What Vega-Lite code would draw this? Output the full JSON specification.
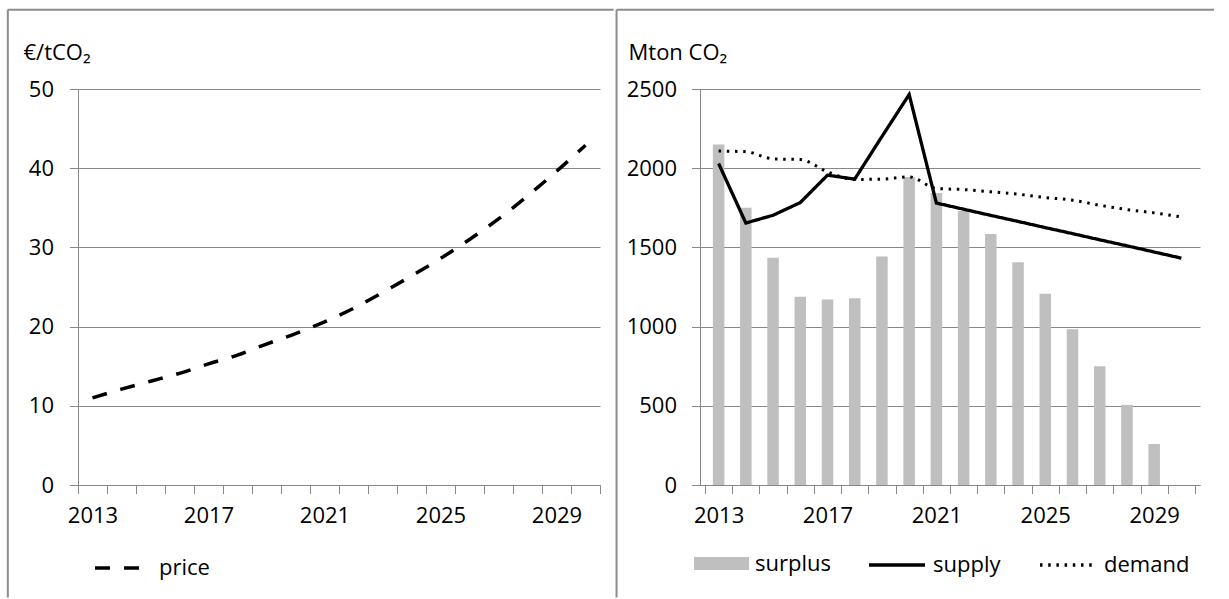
{
  "$schema": "https://vega.github.io/schema/vega-lite/v6.json",
  "background": "white",
  "padding": {"left": 6, "top": 8, "right": 0, "bottom": 0},
  "spacing": 0,
  "resolve": {
    "scale": {"strokeDash": "independent", "fill": "independent"},
    "legend": {"strokeDash": "independent", "fill": "independent"}
  },
  "config": {
    "font": "Open Sans",
    "view": {"stroke": null},
    "axis": {
      "labelFont": "Open Sans",
      "labelFontSize": 22,
      "labelColor": "#000000",
      "domainColor": "#888888",
      "tickColor": "#888888",
      "gridColor": "#888888",
      "gridWidth": 1,
      "domainWidth": 1,
      "tickWidth": 1,
      "tickSize": 8.5,
      "titleFont": "Open Sans",
      "titleFontSize": 22,
      "titleFontWeight": "normal",
      "titleColor": "#000000"
    },
    "legend": {
      "labelFont": "Open Sans",
      "labelFontSize": 22,
      "labelColor": "#000000",
      "padding": 0
    }
  },
  "datasets": {
    "price": [
      {"year": 2013, "price": 11.0},
      {"year": 2014, "price": 12.1},
      {"year": 2015, "price": 13.1},
      {"year": 2016, "price": 14.1},
      {"year": 2017, "price": 15.3},
      {"year": 2018, "price": 16.4},
      {"year": 2019, "price": 17.8},
      {"year": 2020, "price": 19.1},
      {"year": 2021, "price": 20.6},
      {"year": 2022, "price": 22.3},
      {"year": 2023, "price": 24.3},
      {"year": 2024, "price": 26.4},
      {"year": 2025, "price": 28.6},
      {"year": 2026, "price": 31.0},
      {"year": 2027, "price": 33.6},
      {"year": 2028, "price": 36.5},
      {"year": 2029, "price": 39.6},
      {"year": 2030, "price": 42.9}
    ],
    "balance": [
      {"year": 2013, "surplus": 2150, "supply": 2030, "demand": 2108},
      {"year": 2014, "surplus": 1750, "supply": 1654, "demand": 2104},
      {"year": 2015, "surplus": 1435, "supply": 1703, "demand": 2059},
      {"year": 2016, "surplus": 1188, "supply": 1783, "demand": 2055},
      {"year": 2017, "surplus": 1171, "supply": 1956, "demand": 1977},
      {"year": 2018, "surplus": 1179, "supply": 1931, "demand": 1929},
      {"year": 2019, "surplus": 1443, "supply": 2200, "demand": 1931},
      {"year": 2020, "surplus": 1945, "supply": 2465, "demand": 1945},
      {"year": 2021, "surplus": 1844, "supply": 1780, "demand": 1872},
      {"year": 2022, "surplus": 1730, "supply": 1741, "demand": 1865},
      {"year": 2023, "surplus": 1585, "supply": 1702, "demand": 1851},
      {"year": 2024, "surplus": 1407, "supply": 1664, "demand": 1836},
      {"year": 2025, "surplus": 1207, "supply": 1625, "demand": 1815},
      {"year": 2026, "surplus": 983, "supply": 1587, "demand": 1798},
      {"year": 2027, "surplus": 749, "supply": 1548, "demand": 1766},
      {"year": 2028, "surplus": 506, "supply": 1510, "demand": 1739},
      {"year": 2029, "surplus": 259, "supply": 1471, "demand": 1718},
      {"year": 2030, "surplus": null, "supply": 1432, "demand": 1692}
    ]
  },
  "hconcat": [
    {
      "width": 522,
      "height": 396,
      "resolve": {"axis": {"x": "independent", "y": "independent"}},
      "layer": [
        {
          "data": {"name": "price"},
          "mark": {"type": "line", "color": "#000000", "strokeWidth": 3.5, "strokeCap": "butt", "interpolate": "monotone"},
          "encoding": {
            "x": {
              "field": "year",
              "type": "quantitative",
              "scale": {"domain": [2012.5, 2030.5], "nice": false, "zero": false},
              "axis": {
                "orient": "bottom",
                "title": null,
                "grid": false,
                "values": [2012.5, 2013, 2013.5, 2014.5, 2015.5, 2016.5, 2017, 2017.5, 2018.5, 2019.5, 2020.5, 2021, 2021.5, 2022.5, 2023.5, 2024.5, 2025, 2025.5, 2026.5, 2027.5, 2028.5, 2029, 2029.5, 2030.5],
                "labelExpr": "datum.value % 1 === 0 ? '' + datum.value : ''",
                "tickOpacity": {"condition": {"test": "datum.value % 1 === 0", "value": 0}, "value": 1},
                "labelOverlap": false,
                "labelFlush": false,
                "labelPadding": 12
              }
            },
            "y": {
              "field": "price",
              "type": "quantitative",
              "scale": {"domain": [0, 50], "nice": false},
              "axis": {
                "orient": "left",
                "title": "€/tCO₂",
                "values": [0, 10, 20, 30, 40, 50],
                "format": "d",
                "grid": true,
                "titleAngle": 0,
                "titleAlign": "left",
                "titleBaseline": "alphabetic",
                "titleX": -55,
                "titleY": -30,
                "labelPadding": 16
              }
            },
            "strokeDash": {
              "datum": "price",
              "type": "nominal",
              "scale": {"range": [[15, 14]]},
              "legend": {
                "title": null,
                "orient": "none",
                "legendX": 15,
                "legendY": 455,
                "symbolType": "stroke",
                "symbolSize": 1936,
                "symbolStrokeWidth": 3.5,
                "symbolStrokeColor": "#000000",
                "labelOffset": 18
              }
            }
          }
        },
        {
          "data": {"values": [{}]},
          "mark": {"type": "rule", "stroke": "#8c8c8c", "strokeWidth": 2},
          "encoding": {
            "x": {"datum": 2010.08, "type": "quantitative", "scale": {"domain": [2012.5, 2030.5], "nice": false, "zero": false}, "axis": null},
            "x2": {"datum": 2030.97},
            "y": {"datum": 60, "type": "quantitative", "scale": {"domain": [0, 50], "nice": false}, "axis": null}
          }
        },
        {
          "data": {"values": [{}]},
          "mark": {"type": "rule", "stroke": "#8c8c8c", "strokeWidth": 2},
          "encoding": {
            "x": {"datum": 2010.08, "type": "quantitative", "scale": {"domain": [2012.5, 2030.5], "nice": false, "zero": false}, "axis": null},
            "y": {"datum": 60, "type": "quantitative", "scale": {"domain": [0, 50], "nice": false}, "axis": null},
            "y2": {"datum": -14.2}
          }
        }
      ]
    },
    {
      "width": 500,
      "height": 396,
      "resolve": {"axis": {"x": "independent", "y": "independent"}},
      "layer": [
        {
          "data": {"name": "balance"},
          "mark": {"type": "bar", "size": 11.5},
          "encoding": {
            "x": {
              "field": "year",
              "type": "quantitative",
              "scale": {"domain": [2012.5, 2030.5], "nice": false, "zero": false},
              "axis": {
                "orient": "bottom",
                "title": null,
                "grid": false,
                "values": [2012.5, 2013, 2013.5, 2014.5, 2015.5, 2016.5, 2017, 2017.5, 2018.5, 2019.5, 2020.5, 2021, 2021.5, 2022.5, 2023.5, 2024.5, 2025, 2025.5, 2026.5, 2027.5, 2028.5, 2029, 2029.5, 2030.5],
                "labelExpr": "datum.value % 1 === 0 ? '' + datum.value : ''",
                "tickOpacity": {"condition": {"test": "datum.value % 1 === 0", "value": 0}, "value": 1},
                "labelOverlap": false,
                "labelFlush": false,
                "labelPadding": 12
              }
            },
            "y": {
              "field": "surplus",
              "type": "quantitative",
              "scale": {"domain": [0, 2500], "nice": false},
              "axis": {
                "orient": "left",
                "title": "Mton CO₂",
                "values": [0, 500, 1000, 1500, 2000, 2500],
                "format": "d",
                "grid": true,
                "titleAngle": 0,
                "titleAlign": "left",
                "titleBaseline": "alphabetic",
                "titleX": -72,
                "titleY": -30,
                "labelPadding": 15
              }
            },
            "fill": {
              "datum": "surplus",
              "type": "nominal",
              "scale": {"range": ["#bfbfbf"]},
              "legend": {
                "title": null,
                "orient": "none",
                "legendX": -6,
                "legendY": 447,
                "symbolType": "M-1,-0.236H1V0.236H-1Z",
                "symbolSize": 3025,
                "symbolStrokeWidth": 0,
                "labelOffset": 6
              }
            }
          }
        },
        {
          "data": {"name": "balance"},
          "mark": {"type": "line", "color": "#000000", "strokeWidth": 3.3},
          "encoding": {
            "x": {"field": "year", "type": "quantitative", "scale": {"domain": [2012.5, 2030.5], "nice": false, "zero": false}, "axis": null},
            "y": {"field": "supply", "type": "quantitative", "scale": {"domain": [0, 2500], "nice": false}, "axis": null},
            "strokeDash": {
              "datum": "supply",
              "type": "nominal",
              "scale": {"domain": ["supply", "demand"], "range": [[1, 0], [2.5, 5.7]]},
              "legend": {
                "title": null,
                "orient": "none",
                "direction": "horizontal",
                "legendX": 167,
                "legendY": 446,
                "symbolType": "stroke",
                "symbolSize": 3136,
                "symbolStrokeWidth": 3.5,
                "symbolStrokeColor": "#000000",
                "columnPadding": 32,
                "labelOffset": 6
              }
            }
          }
        },
        {
          "data": {"name": "balance"},
          "mark": {"type": "line", "color": "#000000", "strokeWidth": 3, "interpolate": "monotone"},
          "encoding": {
            "x": {"field": "year", "type": "quantitative", "scale": {"domain": [2012.5, 2030.5], "nice": false, "zero": false}, "axis": null},
            "y": {"field": "demand", "type": "quantitative", "scale": {"domain": [0, 2500], "nice": false}, "axis": null},
            "strokeDash": {
              "datum": "demand",
              "type": "nominal",
              "scale": {"domain": ["supply", "demand"], "range": [[1, 0], [2.5, 5.7]]},
              "legend": {
                "title": null,
                "orient": "none",
                "direction": "horizontal",
                "legendX": 167,
                "legendY": 446,
                "symbolType": "stroke",
                "symbolSize": 3136,
                "symbolStrokeWidth": 3.5,
                "symbolStrokeColor": "#000000",
                "columnPadding": 32,
                "labelOffset": 6
              }
            }
          }
        },
        {
          "data": {"values": [{}]},
          "mark": {"type": "rule", "stroke": "#8c8c8c", "strokeWidth": 2},
          "encoding": {
            "x": {"datum": 2009.25, "type": "quantitative", "scale": {"domain": [2012.5, 2030.5], "nice": false, "zero": false}, "axis": null},
            "y": {"datum": 3000, "type": "quantitative", "scale": {"domain": [0, 2500], "nice": false}, "axis": null},
            "y2": {"datum": -710}
          }
        },
        {
          "data": {"values": [{}]},
          "mark": {"type": "rule", "stroke": "#8c8c8c", "strokeWidth": 2},
          "encoding": {
            "x": {"datum": 2009.25, "type": "quantitative", "scale": {"domain": [2012.5, 2030.5], "nice": false, "zero": false}, "axis": null},
            "x2": {"datum": 2031.2},
            "y": {"datum": 3000, "type": "quantitative", "scale": {"domain": [0, 2500], "nice": false}, "axis": null}
          }
        }
      ]
    }
  ]
}
